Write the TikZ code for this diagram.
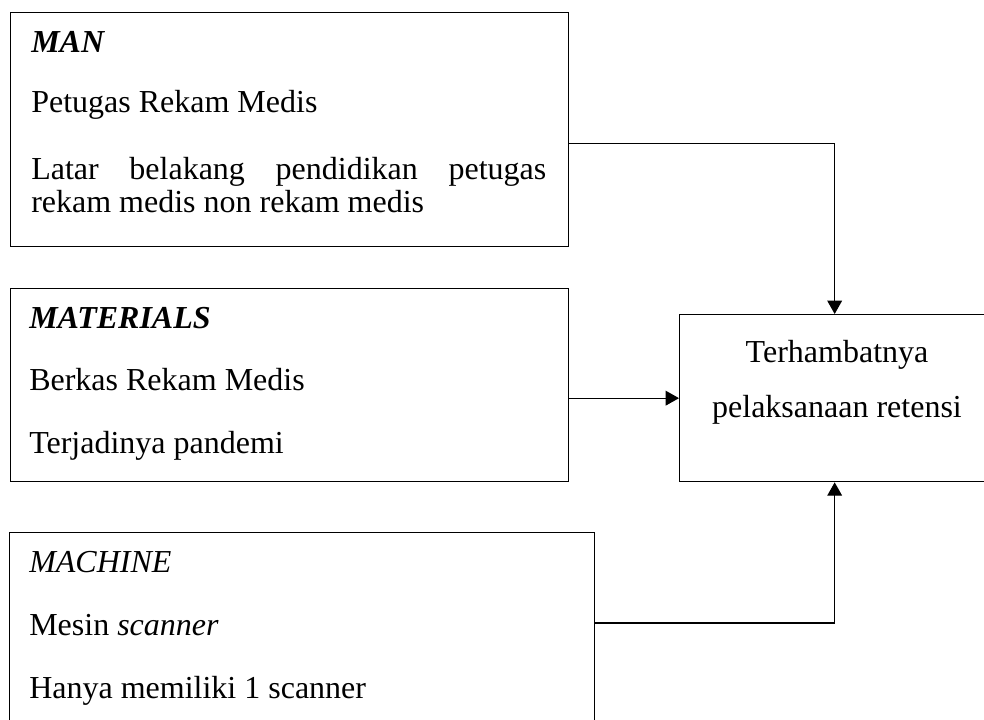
\documentclass[tikz,border=0pt]{standalone}
\usepackage{fontspec}
\setmainfont{Liberation Serif}
\usetikzlibrary{arrows.meta}

\tikzset{
  box/.style={draw, line width=1pt, anchor=north west, inner sep=0pt},
  item/.style={anchor=base west, inner sep=0pt, font=\fontsize{24}{25}\selectfont},
  head/.style={item, font=\fontsize{24}{25}\selectfont\bfseries\itshape},
  arr/.style={-{Triangle[length=10pt,width=11pt]}, line width=1pt}
}

\begin{document}
\begin{tikzpicture}[x=0.75pt, y=-0.75pt]
  \useasboundingbox (0,0) rectangle (984,720);
  \clip (0,0) rectangle (984,720);

  \node[box, minimum width=418.5pt, minimum height=175.5pt] (man) at (10,12) {};
  \node[box, minimum width=418.5pt, minimum height=144.75pt] (mat) at (10,288) {};
  \node[box, minimum width=438.75pt, minimum height=180pt] (mach) at (9,532) {};
  \node[box, minimum width=232.5pt, minimum height=125.25pt] (res) at (679,314) {};

  \node[head] (manhead) at (31,53) {MAN};
  \node[item] (man1) at (31,113) {Petugas Rekam Medis};
  \node[item] (man2) at (31,180) {\makebox[386.25pt][s]{Latar belakang pendidikan petugas}};
  \node[item] (man3) at (31,213) {rekam medis non rekam medis};

  \node[head] (mathead) at (29,328) {MATERIALS};
  \node[item] (mat1) at (29,390) {Berkas Rekam Medis};
  \node[item] (mat2) at (29,453) {Terjadinya pandemi};

  \node[item, font=\fontsize{24}{25}\selectfont\itshape] (machhead) at (29,572) {MACHINE};
  \node[item] (mach1) at (29,635) {Mesin \textit{scanner}};
  \node[item] (mach2) at (29,698) {Hanya memiliki 1 scanner};

  \node[item, anchor=base] (res1) at (837,362) {Terhambatnya};
  \node[item, anchor=base] (res2) at (837,417) {pelaksanaan retensi};

  \draw[arr] ([yshift=-10.5pt]man.east) -| (res.north);
  \draw[arr] (mat.east |- res.west) -- (res.west);
  \draw[arr] ([yshift=-68.25pt]mach.north east) -| (res.south);
\end{tikzpicture}
\end{document}
